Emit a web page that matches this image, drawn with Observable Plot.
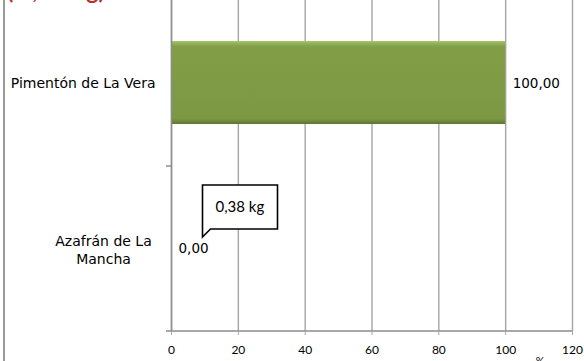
<!DOCTYPE html>
<html>
<head>
<meta charset="utf-8">
<script src="https://cdn.jsdelivr.net/npm/d3@7"></script>
<script src="https://cdn.jsdelivr.net/npm/@observablehq/plot@0.6"></script>
<style>
  html, body { margin: 0; padding: 0; background: #fff; }
  #wrap { position: relative; width: 584px; height: 361px; overflow: hidden; }
  #title { position: absolute; left: 7px; top: -22px; font: bold 23px/24px Lato, sans-serif; color: #b2312e; white-space: nowrap; }
  #frame { position: absolute; left: 3px; top: 0; width: 0; height: 361px; border-left: 2px solid #9a9a9a; }
  #chart { position: absolute; left: 0; top: 0; }
</style>
</head>
<body>
<div id="wrap">
  <div id="frame"></div>
  <div id="title">(%, en kg)</div>
  <div id="chart"></div>
</div>
<script>
// ---- data ----
const categories = ["Pimentón de La Vera", "Azafrán de La Mancha"];
const categoryLines = ["Pimentón de La Vera", "Azafrán de La\nMancha"];
const values = [100.00, 0.00];
const notes = ["", "0,38 kg"];
const xTicks = [0, 20, 40, 60, 80, 100, 120];
const xUnit = "%";

const rows = categories.map((c, i) => ({category: c, value: values[i], note: notes[i], lines: categoryLines[i]}));
const noteRows = rows.filter(d => d.note);
const fmt = v => d3.format(".2f")(v).replace(".", ",");

const sepMark = (index, scales, values, dims) => {
  const g = d3.create("svg:g");
  const x0 = scales.x(0);
  const yb = dims.height - dims.marginBottom;
  // axis baseline
  g.append("line").attr("x1", x0 - 5).attr("x2", scales.x(xTicks[xTicks.length - 1]))
    .attr("y1", yb).attr("y2", yb).attr("stroke", "#8c8c8c").attr("stroke-width", 1.5);
  // category separator ticks
  categories.slice(1).forEach(c => {
    const y = scales.y(c);
    g.append("line").attr("x1", x0 - 5).attr("x2", x0).attr("y1", y).attr("y2", y)
      .attr("stroke", "#8c8c8c").attr("stroke-width", 1.5);
  });
  return g.node();
};

const chart = Plot.plot({
  width: 584,
  height: 361,
  marginLeft: 171,
  marginRight: 12,
  marginTop: 0,
  marginBottom: 30,
  x: {domain: [xTicks[0], xTicks[xTicks.length - 1]], axis: null},
  y: {domain: categories, padding: 0, axis: null},
  style: {fontFamily: "Lato, sans-serif", fontSize: "11px", color: "#000", background: "transparent"},
  marks: [
    Plot.gridX(xTicks, {stroke: "#a6a6a6", strokeOpacity: 1, strokeWidth: 1.4}),
    Plot.barX(rows, {x: "value", y: "category", fill: "#7f9b44", insetTop: 40, insetBottom: 42}),
    Plot.ruleX([0], {stroke: "#8c8c8c", strokeWidth: 1.5}),
    sepMark,
    Plot.axisX(xTicks, {tickSize: 4, tickPadding: 10, stroke: "#a6a6a6", label: null, fontSize: 12}),
    Plot.axisY([categories[0]], {tickSize: 0, tickPadding: 16, textAnchor: "end", label: null,
      fontFamily: "DejaVu Sans, sans-serif", fontSize: 14, tickFormat: c => categoryLines[categories.indexOf(c)]}),
    Plot.axisY([categories[1]], {tickSize: 0, tickPadding: 68, textAnchor: "middle", label: null, lineHeight: 1.3,
      fontFamily: "DejaVu Sans, sans-serif", fontSize: 14, tickFormat: c => categoryLines[categories.indexOf(c)]}),
    Plot.text(rows, {x: "value", y: "category", text: d => fmt(d.value), textAnchor: "start", dx: 7,
      fontFamily: "DejaVu Sans, sans-serif", fontSize: 13.5, fill: "#000"}),
    Plot.tip(noteRows, {x: "value", y: "category", title: "note", anchor: "bottom-left", dx: 31, dy: -12,
      fill: "white", stroke: "black", strokeWidth: 1.6, pathFilter: "none", pointerSize: 8, textPadding: 13,
      fontSize: 15, fontFamily: "Lato, sans-serif"}),
    Plot.text([xUnit], {frameAnchor: "bottom-right", dx: -28, dy: 26, lineAnchor: "top", fontSize: 11, fill: "#000"})
  ]
});

// bar shading (bevel-like gradient)
const svg = d3.select(chart);
const defs = svg.insert("defs", ":first-child");
const grad = defs.append("linearGradient").attr("id", "barGrad").attr("x1", 0).attr("y1", 0).attr("x2", 0).attr("y2", 1);
[["0%", "#a9c66c"], ["3%", "#93b257"], ["7%", "#829f47"], ["93%", "#7c9843"], ["97%", "#6d873a"], ["100%", "#5e7532"]]
  .forEach(([o, c]) => grad.append("stop").attr("offset", o).attr("stop-color", c));
svg.selectAll('g[aria-label="bar"] rect').attr("fill", "url(#barGrad)");

document.getElementById("chart").append(chart);
</script>
</body>
</html>
